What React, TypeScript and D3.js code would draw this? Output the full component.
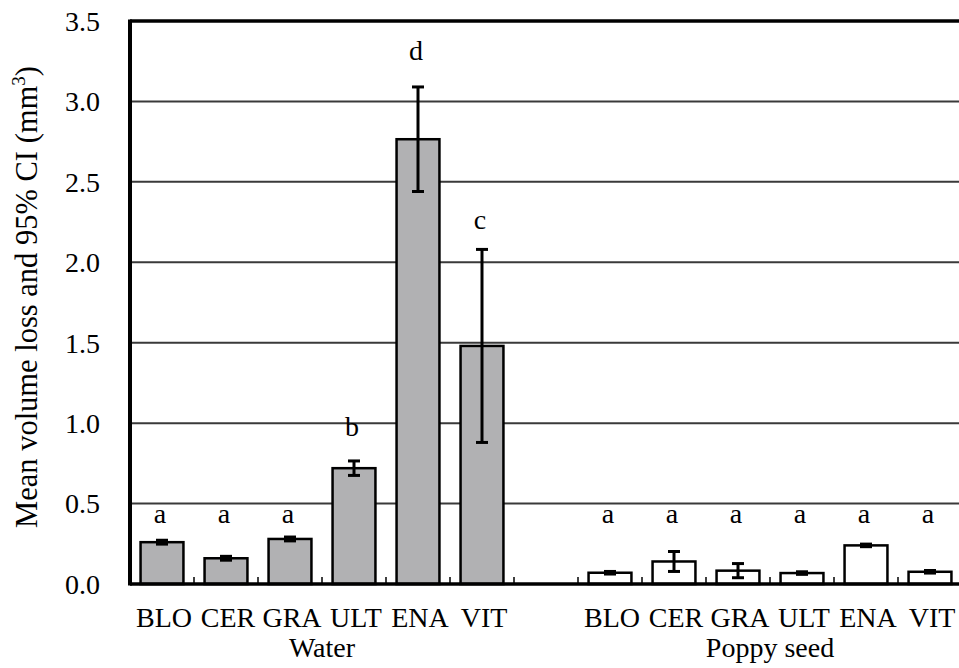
import React from "react";
import * as d3 from "d3";

const categories = ["BLO", "CER", "GRA", "ULT", "ENA", "VIT"];
const groups = ["Water", "Poppy seed"];
const waterMeans = [0.26, 0.16, 0.28, 0.72, 2.765, 1.48];
const waterCI = [0.012, 0.012, 0.012, 0.045, 0.325, 0.6];
const waterLetters = ["a", "a", "a", "b", "d", "c"];
const waterLetterPos = [0.38, 0.38, 0.38, 0.92, 3.26, 2.21];
const poppyMeans = [0.07, 0.14, 0.083, 0.068, 0.24, 0.076];
const poppyCI = [0.008, 0.062, 0.044, 0.008, 0.008, 0.008];
const poppyLetters = ["a", "a", "a", "a", "a", "a"];
const poppyLetterPos = [0.38, 0.38, 0.38, 0.38, 0.38, 0.38];
const yTicks = [0, 0.5, 1.0, 1.5, 2.0, 2.5, 3.0, 3.5];

const W = 959;
const H = 668;
const left = 130;
const right = 962;
const top = 21;
const bottom = 584;
const FONT = "'Liberation Serif', 'Times New Roman', serif";

type Bar = { key: string; group: number; cat: string; mean: number; ci: number; letter: string; lpos: number };

const bars: Bar[] = [
  ...categories.map((c, i) => ({ key: "W-" + c, group: 0, cat: c, mean: waterMeans[i], ci: waterCI[i], letter: waterLetters[i], lpos: waterLetterPos[i] })),
  ...categories.map((c, i) => ({ key: "P-" + c, group: 1, cat: c, mean: poppyMeans[i], ci: poppyCI[i], letter: poppyLetters[i], lpos: poppyLetterPos[i] })),
];

const domain = [...categories.map((c) => "W-" + c), "gap", ...categories.map((c) => "P-" + c)];

export default function App() {
  const pin = 0.33;
  const x = d3.scaleBand<string>().domain(domain).range([left, right]).paddingInner(pin).paddingOuter(pin / 2);
  const y = d3.scaleLinear().domain([0, 3.5]).range([bottom, top]);
  const step = x.step();
  const bw = x.bandwidth();
  const boundaries = domain.slice(1).map((k) => (x(k) as number) - (step * pin) / 2);
  const groupCenter = (g: number) => {
    const keys = categories.map((c) => (g === 0 ? "W-" : "P-") + c);
    const a = x(keys[0]) as number;
    const b = (x(keys[keys.length - 1]) as number) + bw;
    return (a + b) / 2;
  };

  return (
    <svg width={W} height={H} style={{ position: "absolute", left: 0, top: 0, background: "#fff" }}>
      <rect x={0} y={0} width={W} height={H} fill="#fff" />
      {/* gridlines */}
      {yTicks.filter((t) => t > 0 && t < 3.5).map((t) => (
        <line key={t} x1={left} x2={right} y1={y(t)} y2={y(t)} stroke="#3a3a3a" strokeWidth={2} />
      ))}
      {/* top border */}
      <line x1={left} x2={right} y1={y(3.5)} y2={y(3.5)} stroke="#000" strokeWidth={3.5} />
      {/* bars */}
      {bars.map((b) => (
        <rect
          key={b.key}
          x={x(b.key)}
          y={y(b.mean)}
          width={bw}
          height={y(0) - y(b.mean)}
          fill={b.group === 0 ? "#b1b1b3" : "#fff"}
          stroke="#000"
          strokeWidth={2.5}
        />
      ))}
      {/* error bars */}
      {bars.map((b) => {
        const cx = (x(b.key) as number) + bw / 2;
        return (
          <g key={"e" + b.key} stroke="#000" strokeWidth={3}>
            <line x1={cx} x2={cx} y1={y(b.mean + b.ci)} y2={y(b.mean - b.ci)} />
            <line x1={cx - 6} x2={cx + 6} y1={y(b.mean + b.ci)} y2={y(b.mean + b.ci)} />
            <line x1={cx - 6} x2={cx + 6} y1={y(b.mean - b.ci)} y2={y(b.mean - b.ci)} />
          </g>
        );
      })}
      {/* letters */}
      {bars.map((b) => (
        <text
          key={"l" + b.key}
          x={(x(b.key) as number) + bw / 2 - 2}
          y={y(b.lpos)}
          textAnchor="middle"
          fontFamily={FONT}
          fontSize={28}
          fill="#000"
        >
          {b.letter}
        </text>
      ))}
      {/* category boundary ticks */}
      {boundaries.map((bx, i) => (
        <line key={"t" + i} x1={bx} x2={bx} y1={bottom} y2={bottom - 7} stroke="#000" strokeWidth={1.5} />
      ))}
      {/* axes */}
      <line x1={left} x2={right} y1={bottom} y2={bottom} stroke="#000" strokeWidth={3.5} />
      <line x1={left} x2={left} y1={top - 1.5} y2={bottom + 1.5} stroke="#000" strokeWidth={4} />
      {/* y tick labels */}
      {yTicks.map((t) => (
        <text key={"y" + t} x={100} y={y(t)} dy="0.35em" textAnchor="end" fontFamily={FONT} fontSize={28} fill="#000">
          {d3.format(".1f")(t)}
        </text>
      ))}
      {/* y label */}
      <text
        transform={`translate(37,297) rotate(-90)`}
        textAnchor="middle"
        fontFamily={FONT}
        fontSize={30.5}
        fill="#000"
      >
        Mean volume loss and 95% CI (mm
        <tspan fontSize={19} dy={-12}>3</tspan>
        <tspan dy={12}>)</tspan>
      </text>
      {/* x category labels */}
      {bars.map((b) => (
        <text
          key={"x" + b.key}
          x={(x(b.key) as number) + bw / 2 + 2}
          y={627}
          textAnchor="middle"
          fontFamily={FONT}
          fontSize={28}
          fill="#000"
        >
          {b.cat}
        </text>
      ))}
      {/* group labels */}
      {groups.map((g, i) => (
        <text key={g} x={groupCenter(i)} y={657} textAnchor="middle" fontFamily={FONT} fontSize={28} fill="#000">
          {g}
        </text>
      ))}
    </svg>
  );
}
